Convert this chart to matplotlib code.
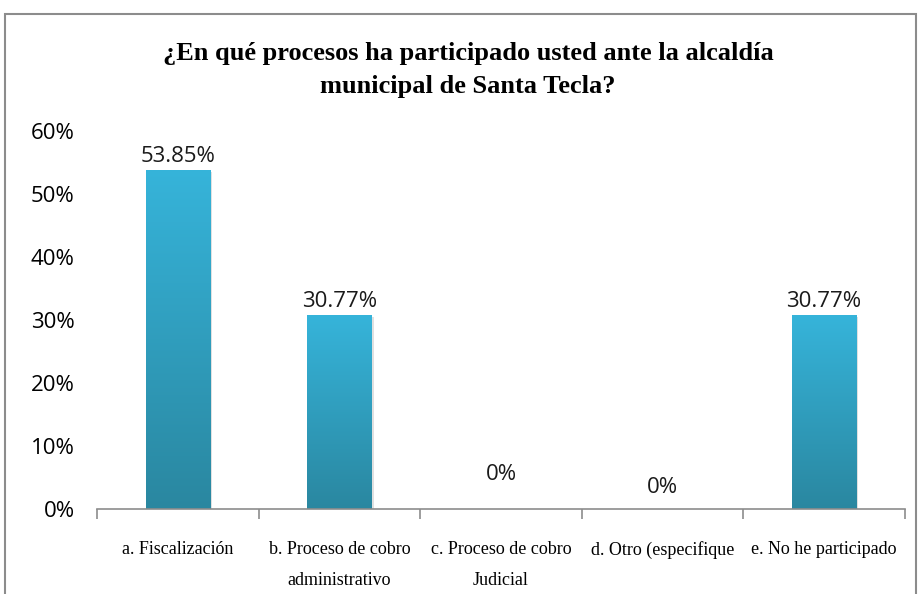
import numpy as np
import matplotlib.pyplot as plt
import matplotlib.patches as mpatches
from matplotlib.colors import LinearSegmentedColormap

# data
categories = ['a. Fiscalización', 'b. Proceso de cobro\nadministrativo',
              'c. Proceso de cobro\nJudicial', 'd. Otro (especifique',
              'e. No he participado']
values = [0.5385, 0.3077, 0.0, 0.0, 0.3077]
value_labels = ['53.85%', '30.77%', '0%', '0%', '30.77%']
yticks = [0, 0.1, 0.2, 0.3, 0.4, 0.5, 0.6]
title = '¿En qué procesos ha participado usted ante la alcaldía\nmunicipal de Santa Tecla?'

fig = plt.figure(figsize=(9.18, 5.94), dpi=100)
ax = fig.add_axes([0.1057, 0.1431, 0.88, 0.6364])

# outer chart border
fig.patches.append(mpatches.Rectangle((5/918, -0.05), 911/918, 1 - 14/594 + 0.05,
                                      transform=fig.transFigure, fill=False,
                                      edgecolor='#8c8c8c', linewidth=1.5))

x = np.arange(len(categories))
bars = ax.bar(x, values, width=0.4, color='none', edgecolor='none')

#gradient fill for each bar
cmap = LinearSegmentedColormap.from_list('g', ['#2a87a0', '#36b4da'])
grad = np.linspace(0, 1, 256).reshape(-1, 1)
for b in bars:
    h = b.get_height()
    if h <= 0:
        continue
    x0 = b.get_x()
    w = b.get_width()
    # soft shadow
    ax.add_patch(mpatches.Rectangle((x0 + 0.012, 0), w, h - 0.003, color='#000000',
                                    alpha=0.12, zorder=1, linewidth=0))
    im = ax.imshow(grad, extent=[x0, x0 + w, 0, h], origin='lower', cmap=cmap,
                   aspect='auto', zorder=2)
    im.set_clip_path(b)

# value labels (0% labels were moved by hand in the original)
offsets = [2, 2, 17, 8, 2]
for i in range(len(values)):
    ax.annotate(value_labels[i], (x[i], values[i]), xytext=(0, offsets[i]),
                textcoords='offset points', ha='center', va='bottom',
                fontsize=16, family='Open Sans', color='#1a1a1a')

ax.set_xlim(-0.5, len(categories) - 0.5)
ax.set_ylim(0, 0.6)
ax.set_yticks(yticks)
ax.set_yticklabels([f'{int(round(t*100))}%' for t in yticks],
                   fontsize=16, family='Open Sans')
ax.tick_params(axis='y', length=0, pad=16)

ax.set_xticks(x)
ax.set_xticklabels(categories, fontsize=13, family='Liberation Serif',
                   linespacing=2.05, va='top')
ax.set_xticks(np.arange(-0.5, len(categories)), minor=True)
ax.tick_params(axis='x', which='major', length=0, pad=23)
ax.tick_params(axis='x', which='minor', length=7, color='#8c8c8c', width=1.2)

for s in ['top', 'right', 'left']:
    ax.spines[s].set_visible(False)
ax.spines['bottom'].set_color('#8c8c8c')
ax.spines['bottom'].set_linewidth(1.2)

fig.text(0.51, 1 - 70/594, title, ha='center', va='center', fontsize=19,
         fontweight='bold', family='Liberation Serif', linespacing=1.6)

fig.savefig('out.png', dpi=100)
